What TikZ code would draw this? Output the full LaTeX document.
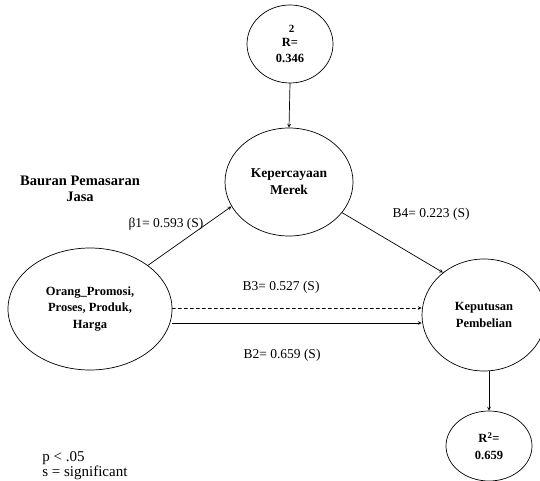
\documentclass[tikz,border=0pt]{standalone}
\usepackage{fontspec}
\setmainfont{Liberation Serif}
\usetikzlibrary{shapes.geometric}
\begin{document}
\begin{tikzpicture}[x=1pt,y=-1pt,line join=round,line cap=round,>=stealth,line width=0.7pt,
	var/.style={draw,ellipse,inner sep=0pt,align=center,font=\bfseries\fontsize{12.5}{16.5}\selectfont},
	lbl/.style={font=\fontsize{13.5}{16}\selectfont}]
	\useasboundingbox (0,0) rectangle (540,481);
	% variabel
	\node[var,minimum width=86pt,minimum height=78pt] (rkm) at (290,44) {\hspace*{3pt}{\fontsize{11}{11}\selectfont 2}\\[-3pt]R=\\0.346};
	\node[var,minimum width=128pt,minimum height=108pt,font=\bfseries\fontsize{13.5}{17}\selectfont] (km) at (289,182) {Kepercayaan\\Merek};
	\node[var,minimum width=164pt,minimum height=122pt] (bpj) at (90,309) {Orang\_Promosi,\\Proses, Produk,\\Harga};
	\node[var,minimum width=124pt,minimum height=112pt] (kp) at (484,315) {Keputusan\\Pembelian};
	\node[var,minimum width=86pt,minimum height=70pt] (rkp) at (489,446) {R\textsuperscript{2}=\\0.659};
	\node[font=\bfseries\fontsize{14.5}{16}\selectfont,align=center] (judul) at (80,189) {Bauran Pemasaran\\Jasa};
	% jalur
	\draw[->] (rkm.south) -- (km.north);
	\draw[->] (bpj.37) -- (km.203);
	\draw[->] (km.-30) -- (kp.134);
	\draw[->,dashed] ([yshift=1pt]bpj.east) -- ([yshift=1pt]bpj.east -| kp.west);
	\draw[->] ([yshift=-14pt]bpj.east) -- ([yshift=-14pt]bpj.east -| kp.west);
	\draw[->] (rkp.north |- kp.south) -- (rkp.north);
	% koefisien
	\node[lbl] (b1) at (166,224) {β1= 0.593 (S)};
	\node[lbl] (b4) at (431,214) {B4= 0.223 (S)};
	\node[lbl] (b3) at (281,287) {B3= 0.527 (S)};
	\node[lbl] (b2) at (282,355) {B2= 0.659 (S)};
	\node[font=\fontsize{15}{15}\selectfont,anchor=west,align=left,inner sep=0pt] (ket) at (42,466) {p < .05\\s = significant};
\end{tikzpicture}
\end{document}
